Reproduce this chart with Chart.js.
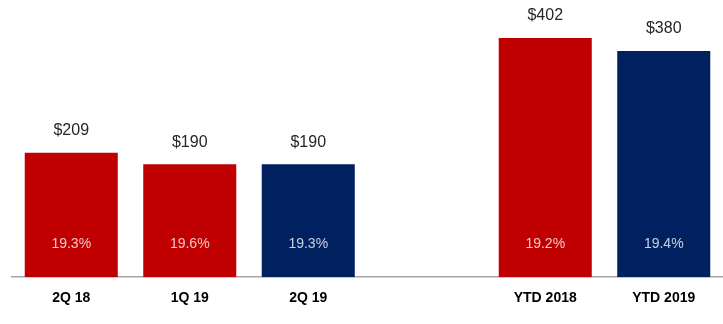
<!DOCTYPE html>
<html>
<head>
<meta charset="utf-8">
<script src="https://cdn.jsdelivr.net/npm/chart.js@4/dist/chart.umd.min.js"></script>
<style>
  html, body { margin: 0; padding: 0; background: #fff; }
  #wrap { position: relative; width: 723px; height: 324px; }
</style>
</head>
<body>
<div id="wrap"><canvas id="chart"></canvas></div>
<script>
const categories = ['2Q 18', '1Q 19', '2Q 19', '', 'YTD 2018', 'YTD 2019'];
const amounts = [209, 190, 190, null, 402, 380];
const amountLabels = ['$209', '$190', '$190', '', '$402', '$380'];
const margins = ['19.3%', '19.6%', '19.3%', '', '19.2%', '19.4%'];

const RED = '#C00000';
const NAVY = '#002060';
const barColors = [RED, RED, NAVY, RED, RED, NAVY];

// draws the $ amounts above the bars and the % figures near the bottom
const barLabels = {
  id: 'barLabels',
  afterDatasetsDraw(chart) {
    const ctx = chart.ctx;
    const meta = chart.getDatasetMeta(0);
    const base = chart.scales.y.getPixelForValue(0);
    ctx.save();
    ctx.textAlign = 'center';
    ctx.textBaseline = 'middle';
    meta.data.forEach((bar, i) => {
      if (amounts[i] == null) return;
      ctx.font = '16px "Liberation Sans", Arial, sans-serif';
      ctx.fillStyle = '#262626';
      ctx.fillText(amountLabels[i], bar.x, bar.y - 22);
      ctx.font = '14px "Liberation Sans", Arial, sans-serif';
      ctx.fillStyle = 'rgba(255,255,255,0.78)';
      ctx.fillText(margins[i], bar.x, base - 33);
    });
    ctx.restore();
  }
};

new Chart('chart', {
  type: 'bar',
  data: {
    labels: categories,
    datasets: [{
      data: amounts,
      backgroundColor: barColors,
      categoryPercentage: 1,
      barPercentage: 0.785,
    }],
  },
  options: {
    responsive: true,
    maintainAspectRatio: false,
    animation: false,
    layout: { padding: { left: 12, right: 0, top: 10, bottom: 4 } },
    plugins: {
      legend: { display: false },
      tooltip: { enabled: false },
    },
    scales: {
      x: {
        grid: { display: false, drawTicks: false },
        border: { display: true, color: '#a6a6a6', width: 1.5 },
        ticks: {
          color: '#000',
          padding: 13,
          font: { family: '"Liberation Sans", Arial, sans-serif', size: 14, weight: 'bold' },
        },
      },
      y: {
        display: false,
        min: 0,
        max: 449,
      },
    },
  },
  plugins: [barLabels],
});
</script>
</body>
</html>
